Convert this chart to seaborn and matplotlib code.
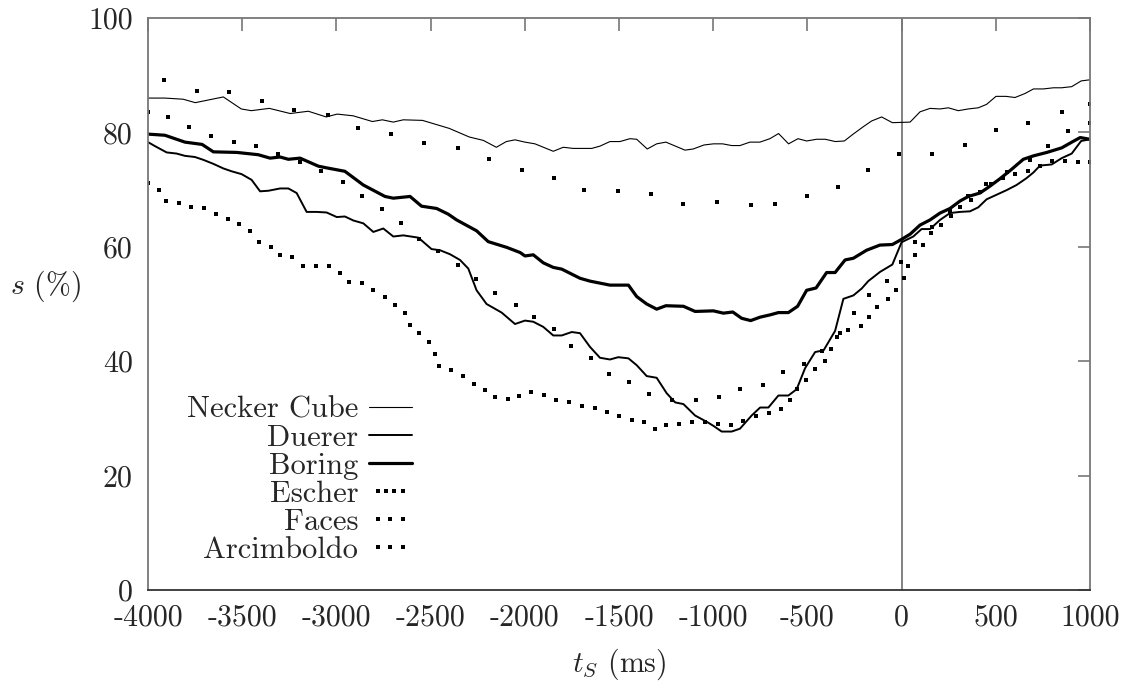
import matplotlib
matplotlib.use('Agg')
import matplotlib.pyplot as plt
import seaborn as sns
from matplotlib.lines import Line2D
from matplotlib.legend_handler import HandlerLine2D

sns.set_style('white')
plt.rcParams['font.family'] = 'serif'
plt.rcParams['font.serif'] = ['cmr10']
plt.rcParams['mathtext.fontset'] = 'cm'
plt.rcParams['axes.unicode_minus'] = False
plt.rcParams['axes.formatter.use_mathtext'] = True

# --- data (t in ms, s in %) ---
necker_t = [-4000, -3910, -3813, -3749, -3600, -3505, -3452, -3356, -3245, -3149, -3054, -2996,
            -2911, -2809, -2756, -2698, -2645, -2543, -2401, -2295, -2220, -2151, -2098, -2052,
            -1999, -1946, -1849, -1796, -1743, -1645, -1601, -1548, -1495, -1442, -1406, -1350,
            -1300, -1251, -1150, -1106, -1049, -999, -950, -902, -858, -805, -752, -699, -653,
            -600, -550, -504, -451, -405, -352, -304, -257, -203, -159, -106, -49, 45, 98, 151,
            204, 248, 301, 354, 407, 451, 501, 554, 602, 655, 700, 753, 806, 850, 903, 953, 1000]
necker_s = [86.0, 86.0, 85.8, 85.2, 86.2, 84.1, 83.8, 84.2, 83.3, 83.7, 82.7, 83.2,
            82.9, 81.9, 82.2, 81.8, 82.2, 82.1, 80.7, 79.2, 78.6, 77.4, 78.4, 78.7,
            78.3, 78.0, 76.7, 77.4, 77.2, 77.2, 77.6, 78.4, 78.4, 78.9, 78.8, 77.1,
            78.0, 78.3, 76.9, 77.1, 77.8, 78.0, 78.0, 77.7, 77.7, 78.3, 78.3, 78.9, 79.8,
            78.0, 78.9, 78.5, 78.8, 78.8, 78.4, 78.5, 79.7, 81.0, 82.0, 82.7, 81.7, 81.8, 83.6, 84.2,
            84.1, 84.3, 83.8, 84.1, 84.3, 84.9, 86.3, 86.3, 86.1, 86.8, 87.6, 87.6, 87.8, 87.8, 88.0, 89.0, 89.2]

duerer_t = [-4000, -3963, -3901, -3848, -3804, -3751, -3706, -3653, -3600, -3556, -3503, -3450,
            -3405, -3361, -3299, -3255, -3211, -3158, -3105, -3052, -2998, -2955, -2910, -2857,
            -2804, -2751, -2698, -2645, -2565, -2495, -2450, -2397, -2344, -2300, -2256, -2203,
            -2123, -2052, -1999, -1955, -1902, -1849, -1804, -1751, -1707, -1654, -1601, -1548,
            -1504, -1450, -1406, -1353, -1300, -1247, -1202, -1158, -1096, -1034, -999, -955,
            -902, -858, -796, -751, -707, -654, -601, -557, -512, -459, -414, -353, -309, -256,
            -212, -177, -115, -49, 0, 62, 106, 151, 204, 257, 310, 363, 407, 451, 504, 557, 610,
            663, 700, 735, 797, 850, 903, 953, 1000]
duerer_s = [78.3, 77.6, 76.5, 76.3, 75.9, 75.7, 75.2, 74.5, 73.7, 73.2, 72.7, 71.7,
            69.7, 69.8, 70.2, 70.2, 69.4, 66.1, 66.1, 66.0, 65.2, 65.3, 64.6, 64.1,
            62.6, 63.2, 61.8, 62.0, 61.6, 59.6, 59.4, 58.7, 57.7, 56.2, 52.4, 50.0,
            48.5, 46.5, 47.1, 46.9, 46.0, 44.5, 44.5, 45.1, 44.9, 42.5, 40.6, 40.3,
            40.7, 40.5, 39.3, 37.4, 37.1, 34.4, 32.8, 32.5, 30.5, 29.4, 28.7, 27.7,
            27.7, 28.2, 30.5, 31.9, 31.9, 34.0, 34.0, 35.1, 38.8, 41.6, 41.9, 45.3, 50.9, 51.5,
            52.7, 54.0, 55.6, 56.9, 60.8, 61.8, 63.1, 63.1, 64.7, 65.9, 66.1, 66.2, 66.9, 68.3, 69.1, 69.9, 70.8,
            72.0, 73.0, 74.2, 74.4, 75.5, 76.3, 78.5, 78.8]

boring_t = [-4000, -3910, -3804, -3713, -3653, -3529, -3415, -3352, -3299, -3255, -3193, -3096,
            -3052, -2955, -2857, -2742, -2698, -2609, -2548, -2468, -2406, -2362, -2256, -2194,
            -2096, -2025, -1999, -1955, -1902, -1849, -1804, -1707, -1654, -1548, -1450, -1406,
            -1353, -1300, -1251, -1158, -1096, -999, -946, -896, -849, -801, -751, -698, -654,
            -601, -552, -504, -454, -398, -353, -300, -256, -186, -115, -49, 0, 45, 98, 151, 204,
            257, 310, 354, 416, 469, 522, 575, 646, 700, 771, 850, 909, 948, 1000]
boring_s = [79.7, 79.5, 78.3, 77.9, 76.6, 76.5, 76.1, 75.5, 75.7, 75.3, 75.5, 74.1,
            73.8, 73.2, 70.8, 68.8, 68.5, 68.8, 67.1, 66.7, 65.7, 64.7, 62.8, 60.9,
            59.9, 59.0, 58.4, 58.6, 57.2, 56.4, 56.1, 54.5, 54.0, 53.3, 53.3, 51.3,
            50.0, 49.1, 49.7, 49.6, 48.7, 48.8, 48.4, 48.6, 47.5, 47.1, 47.7, 48.1, 48.5,
            48.5, 49.6, 52.4, 52.8, 55.5, 55.5, 57.7, 58.0, 59.4, 60.3, 60.4, 61.3, 62.2, 63.8, 64.7, 65.9,
            66.7, 68.0, 68.8, 69.4, 70.6, 71.9, 73.3, 75.3, 75.9, 76.5, 77.3, 78.4, 79.1, 78.8]

escher_t = [-4000, -3940, -3903, -3834, -3770, -3701, -3637, -3574, -3516, -3457, -3409, -3346,
            -3298, -3234, -3176, -3107, -3038, -2979, -2932, -2866, -2804, -2740, -2687, -2638,
            -2608, -2560, -2507, -2479, -2454, -2390, -2330, -2272, -2213, -2157, -2091, -2031,
            -1967, -1896, -1833, -1764, -1695, -1628, -1562, -1499, -1430, -1366, -1307, -1249,
            -1180, -1111, -1042, -975, -904, -841, -772, -702, -639, -591, -554, -506, -458,
            -404, -374, -342, -287, -214, -172, -129, -70, -29, 15, 36, 71, 116, 158, 211, 264,
            312, 370, 418, 477, 537, 604, 672, 735, 799, 868, 937, 1000]
escher_s = [71.2, 70.0, 68.0, 67.7, 67.0, 66.7, 65.7, 64.8, 64.0, 62.7, 60.8, 60.0,
            58.5, 58.2, 56.7, 56.7, 56.6, 55.4, 53.8, 53.6, 52.4, 51.2, 49.9, 48.5,
            46.4, 45.0, 43.3, 41.2, 39.2, 38.5, 37.4, 36.0, 34.9, 33.8, 33.4, 33.9,
            34.6, 34.1, 33.2, 32.8, 32.1, 31.9, 31.1, 30.4, 29.8, 29.3, 28.1, 28.8,
            29.1, 29.3, 29.3, 29.0, 28.8, 29.5, 30.4, 30.9, 31.6, 33.3, 35.1, 36.8, 38.6,
            40.0, 42.1, 44.3, 45.5, 46.1, 47.7, 49.5, 50.8, 52.4, 54.5, 56.6, 58.6, 60.4, 62.4, 63.8, 65.3,
            67.0, 68.2, 69.5, 70.9, 72.1, 72.7, 73.3, 74.1, 75.0, 75.0, 74.8, 74.8]

faces_t = [-3913, -3742, -3569, -3393, -3223, -3043, -2884, -2709, -2534, -2357, -2189, -2015,
           -1847, -1684, -1503, -1329, -1159, -978, -798, -671, -501, -336, -177, -13, 164, 334,
           499, 672, 850, 1000]
faces_s = [89.2, 87.2, 87.1, 85.5, 83.9, 83.0, 80.8, 79.7, 78.1, 77.3, 75.4, 73.5,
           72.1, 69.9, 69.7, 69.2, 67.4, 67.8, 67.3, 67.4, 68.8, 70.4, 73.4, 76.2, 76.3, 77.8,
           80.4, 81.6, 83.5, 85.0]

arcim_t = [-4000, -3892, -3781, -3665, -3544, -3425, -3308, -3191, -3080, -2963, -2864, -2756,
           -2655, -2560, -2460, -2357, -2259, -2157, -2045, -1950, -1843, -1753, -1647, -1551,
           -1445, -1339, -1217, -1089, -968, -856, -734, -628, -517, -420, -326, -252, -172,
           -76, -1, 71, 164, 259, 354, 450, 560, 681, 779, 885, 1000]
arcim_s = [83.6, 82.7, 81.0, 79.4, 78.3, 77.6, 76.3, 74.8, 73.2, 71.3, 68.9, 66.6,
           64.2, 61.4, 59.2, 56.8, 54.3, 51.9, 49.9, 47.7, 45.6, 42.6, 40.5, 37.7,
           36.3, 34.2, 33.2, 33.2, 33.7, 35.1, 35.8, 38.1, 39.5, 41.8, 44.9, 48.4, 51.5,
           54.0, 57.3, 60.8, 63.5, 66.3, 68.9, 71.0, 73.0, 75.1, 77.7, 80.2, 81.6]

x_ticks = [-4000, -3500, -3000, -2500, -2000, -1500, -1000, -500, 0, 500, 1000]
y_ticks = [0, 20, 40, 60, 80, 100]

fig = plt.figure(figsize=(11.26, 6.86), dpi=100)
ax = fig.add_axes([148 / 1126, 1 - 590 / 686, 942 / 1126, 572 / 686])

ax.axvline(0, color='#777777', lw=1.3, zorder=1)

sns.lineplot(x=necker_t, y=necker_s, ax=ax, color='black', lw=0.8, sort=False, estimator=None)
sns.lineplot(x=duerer_t, y=duerer_s, ax=ax, color='black', lw=1.4, sort=False, estimator=None)
sns.lineplot(x=boring_t, y=boring_s, ax=ax, color='black', lw=2.3, sort=False, estimator=None)
for tt, ss in [(escher_t, escher_s), (faces_t, faces_s), (arcim_t, arcim_s)]:
    sns.scatterplot(x=tt, y=ss, ax=ax, marker='s', s=6, color='black', linewidth=0)

ax.set_xlim(-4000, 1000)
ax.set_ylim(0, 100)
ax.set_xticks(x_ticks)
ax.set_xticklabels([str(v) for v in x_ticks])
ax.set_yticks(y_ticks)
ax.set_yticklabels([str(v) for v in y_ticks])
ax.tick_params(direction='in', length=9, width=1.2, color='#777777', labelsize=21.5,
               top=True, right=True)
ax.tick_params(axis='x', pad=10)
ax.tick_params(axis='y', pad=11)
for sp in ax.spines.values():
    sp.set_color('#777777')
    sp.set_linewidth(1.3)
ax.spines['bottom'].set_color('#333333')

ax.set_xlabel('$t_S$ (ms)', fontsize=21.5, labelpad=11)
ax.set_ylabel('$s$ (%)', fontsize=21.5, rotation=0, labelpad=0)
ax.yaxis.set_label_coords(-0.109, 0.5)

handles = [
    Line2D([], [], color='black', lw=0.8),
    Line2D([], [], color='black', lw=1.4),
    Line2D([], [], color='black', lw=2.3),
    Line2D([], [], ls='none', marker='s', ms=2.3, color='black', mew=0),
    Line2D([], [], ls='none', marker='s', ms=2.3, color='black', mew=0),
    Line2D([], [], ls='none', marker='s', ms=2.3, color='black', mew=0),
]
labels = ['Necker Cube', 'Duerer', 'Boring', 'Escher', 'Faces', 'Arcimboldo']
hmap = {handles[3]: HandlerLine2D(numpoints=4),
        handles[4]: HandlerLine2D(numpoints=3),
        handles[5]: HandlerLine2D(numpoints=3)}
ax.legend(handles, labels, handler_map=hmap, markerfirst=False, frameon=False,
          loc='center right', bbox_to_anchor=(0.28, 0.192), borderpad=0, borderaxespad=0,
          fontsize=22, labelspacing=0.02, handlelength=1.4, handletextpad=0.35)

fig.savefig('out.png', dpi=100)
